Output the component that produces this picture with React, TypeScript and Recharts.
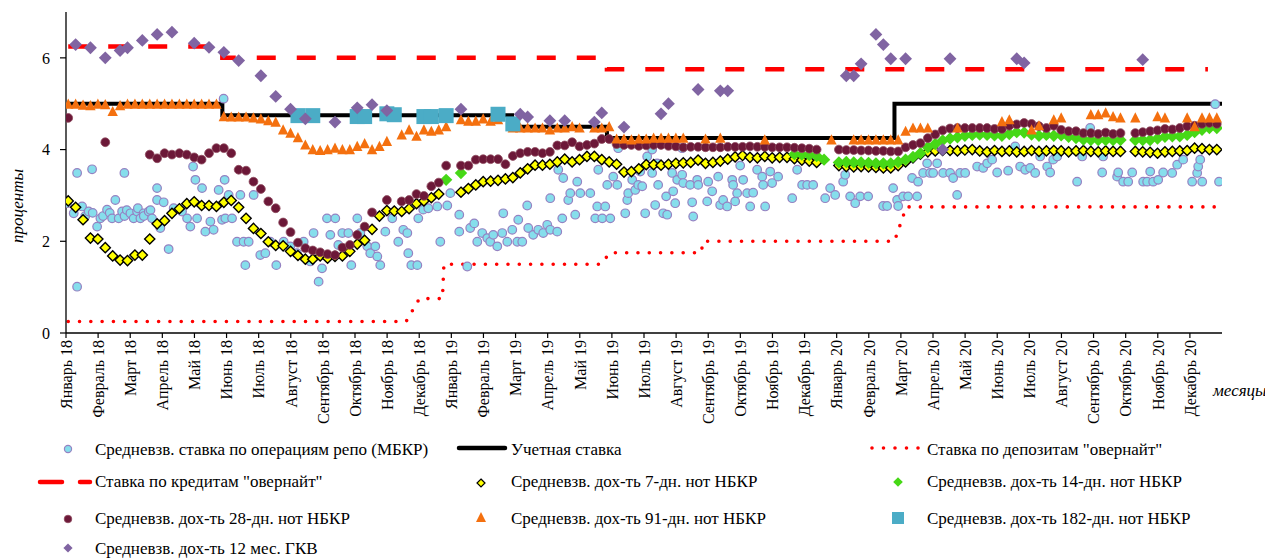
import React from "react";
import { ComposedChart, Line, Scatter, XAxis, YAxis } from "recharts";

const FONT = "'Liberation Serif', 'Times New Roman', serif";
const _ = null;

// month labels, one tick per month (x axis runs in weeks)
const monthLabels = [
  "Январь 18", "Февраль 18", "Март 18", "Апрель 18", "Май 18", "Июнь 18",
  "Июль 18", "Август 18", "Сентябрь 18", "Октябрь 18", "Ноябрь 18", "Декабрь 18",
  "Январь 19", "Февраль 19", "Март 19", "Апрель 19", "Май 19", "Июнь 19",
  "Июль 19", "Август 19", "Сентябрь 19", "Октябрь 19", "Ноябрь 19", "Декабрь 19",
  "Январь 20", "Февраль 20", "Март 20", "Апрель 20", "Май 20", "Июнь 20",
  "Июль 20", "Август 20", "Сентябрь 20", "Октябрь 20", "Ноябрь 20", "Декабрь 20",
];
const monthTicks = monthLabels.map((_m, i) => (i * 52) / 12);

// policy lines: [week position, rate]
const discountRate = [[0.3, 5.0], [21.1, 4.75], [60.2, 4.5], [73.0, 4.25], [111.8, 5.0], [156, 5.0]];
const overnightCredit = [[0.3, 6.25], [21.1, 6.0], [73.0, 5.75], [154.1, 5.75]];
const overnightDeposit = [
  [0.3, 0.25], [45.9, 0.25], [47.7, 0.75], [50.8, 0.75], [51.0, 1.5], [72.2, 1.5],
  [73.4, 1.75], [85.7, 1.75], [86.0, 2.0], [111.8, 2.0], [113.4, 2.75], [156, 2.75],
];

// weekly yields, weeks 0..155
const notes7 = [
  2.88, 2.74, 2.47, 2.07, 2.05, 1.86, 1.68, 1.59, 1.58, 1.70, 1.70, 2.05,
  2.38, 2.45, 2.61, 2.71, 2.82, 2.86, 2.78, 2.78, 2.76, 2.85, 2.89, 2.74,
  2.50, 2.28, 2.17, 1.99, 1.91, 1.90, 1.78, 1.69, 1.61, 1.61, 1.68, 1.63,
  1.67, 1.68, 1.78, 1.94, 2.02, 2.26, 2.55, 2.67, 2.66, 2.65, 2.71, 2.82,
  2.88, 2.95, 3.03, _, _, 3.07, 3.15, 3.23, 3.30, 3.31, 3.33, 3.36,
  3.39, 3.49, 3.58, 3.66, 3.66, 3.68, 3.73, 3.79, 3.73, 3.78, 3.85, 3.85,
  3.78, 3.73, 3.68, 3.51, 3.52, 3.58, 3.67, 3.67, 3.66, 3.68, 3.70, 3.71,
  3.72, 3.77, 3.70, 3.72, 3.75, 3.79, 3.84, 3.87, 3.83, 3.82, 3.85, 3.82,
  3.83, 3.83, 3.80, 3.77, 3.75, 3.72, _, _, 3.65, 3.63, 3.62, 3.63,
  3.62, 3.61, 3.60, 3.60, 3.65, 3.73, 3.82, 3.90, 3.95, 3.97, 3.98, 3.98,
  3.97, 3.99, 4.00, 3.97, 3.95, 3.98, 3.96, 3.97, 3.95, 3.96, 3.98, 3.96,
  3.97, 3.98, 3.97, 3.95, 3.97, 3.98, 3.96, 3.95, 3.97, 3.96, 3.96, _,
  3.96, 3.95, 3.94, 3.92, 3.95, 3.96, 3.97, 3.98, 4.03, 4.02, 4.00, 4.00,
];

const notes14 = [
  _, _, _, _, _, _, _, _, _, _, _, _,
  _, _, _, _, _, _, _, _, _, _, _, _,
  _, _, _, _, _, _, _, _, _, _, _, _,
  _, _, _, _, _, _, _, _, _, _, _, _,
  _, _, _, 3.34, _, 3.49, _, _, _, _, _, _,
  _, _, _, _, _, _, _, _, _, _, _, _,
  _, _, _, _, _, _, _, _, _, _, _, _,
  _, _, _, _, _, _, _, _, _, _, _, _,
  _, _, 3.90, 3.89, 3.88, 3.86, 3.78, _, 3.72, 3.73, 3.72, 3.72,
  3.71, 3.70, 3.70, 3.70, 3.73, 3.78, 3.84, 3.92, 4.05, 4.12, 4.20, 4.24,
  4.27, 4.30, 4.32, 4.33, 4.32, 4.31, 4.30, 4.34, 4.38, 4.37, 4.33, 4.30,
  4.32, 4.30, 4.31, 4.28, 4.25, 4.22, 4.21, 4.21, 4.21, 4.21, 4.21, _,
  4.21, 4.21, 4.21, 4.24, 4.28, 4.29, 4.29, 4.32, 4.38, 4.43, 4.47, 4.47,
];

const notes28 = [
  4.69, _, _, _, _, 4.16, _, _, _, _, _, 3.89,
  3.81, 3.92, 3.89, 3.92, 3.89, 3.83, 3.78, 3.92, 4.03, 4.03, 3.92, 3.56,
  3.54, 3.30, 3.14, 2.87, 2.72, 2.41, 2.20, 1.97, 1.85, 1.80, 1.76, 1.72,
  1.70, 1.86, 1.92, 2.14, 2.32, 2.63, _, 2.90, _, 2.87, 2.90, 3.03,
  2.99, 3.20, 3.28, 3.65, _, 3.65, 3.65, 3.78, 3.79, 3.79, 3.79, 3.68,
  3.86, 3.92, 3.95, 3.95, 3.92, 3.95, 4.09, 4.09, 4.16, 4.07, 4.10, 4.13,
  4.23, 4.23, 4.12, 4.10, 4.10, 4.08, 4.09, 4.10, 4.10, 4.08, 4.07, 4.05,
  4.06, 4.06, 4.05, 4.05, 4.05, 4.06, 4.06, 4.06, 4.07, 4.06, 4.06, 4.05,
  4.05, 4.05, 4.04, 4.03, 4.02, 4.00, _, _, 4.00, 3.99, 3.99, 3.98,
  3.98, 3.97, 3.97, 3.96, 3.96, 4.05, 4.10, 4.14, 4.25, 4.33, 4.42, 4.46,
  4.47, 4.47, 4.47, 4.47, 4.47, 4.45, 4.45, 4.52, 4.55, 4.58, 4.56, 4.51,
  4.47, 4.52, 4.43, 4.40, 4.40, 4.36, 4.36, 4.34, 4.37, 4.34, 4.36, _,
  4.36, 4.38, 4.40, 4.42, 4.45, 4.44, 4.47, 4.51, 4.52, 4.56, 4.58, 4.56,
];

const notes91 = [
  4.99, 4.99, 4.97, 4.96, 4.99, 4.98, 4.83, 4.96, 4.99, 4.99, 4.99, 4.99,
  4.99, 4.99, 4.99, 4.99, 4.99, 4.99, 4.99, 4.99, 4.99, 4.72, 4.71, 4.71,
  4.71, 4.69, 4.67, 4.63, 4.60, 4.43, 4.36, 4.26, 4.10, 4.00, 3.98, 4.00,
  4.03, 4.00, 4.00, 4.07, 4.13, 4.00, 4.07, 4.18, _, 4.32, 4.43, 4.29,
  4.43, 4.40, 4.43, 4.50, _, 4.65, 4.62, 4.62, 4.67, 4.62, 4.65, _,
  4.47, 4.47, 4.47, 4.47, 4.47, 4.43, 4.47, 4.47, 4.50, 4.47, _, 4.47,
  4.47, 4.50, 4.23, 4.23, 4.21, 4.23, 4.23, 4.25, 4.25, 4.25, 4.25, 4.25,
  _, _, 4.23, _, 4.25, _, _, _, _, _, 4.21, _,
  _, _, _, _, _, _, _, 4.21, _, _, 4.21, 4.21,
  4.21, 4.21, 4.21, 4.21, 4.21, 4.40, 4.47, 4.47, 4.47, _, _, _,
  4.47, _, _, _, _, _, 4.61, 4.65, _, _, 4.43, 4.52,
  _, 4.65, 4.69, _, _, _, 4.76, 4.76, 4.80, 4.72, 4.69, _,
  4.69, _, _, 4.72, 4.69, _, _, 4.69, 4.50, 4.69, 4.69, 4.69,
];

const notes182Weeks = [31, 33, 39, 40, 43, 44, 48, 49, 51, 58, 60];
const notes182 = [4.74, 4.74, 4.72, 4.72, 4.78, 4.76, 4.72, 4.72, 4.74, 4.77, 4.56];

const gkvWeeks = [
  1, 3, 5, 7, 8, 10, 12, 14, 17, 19, 21, 23, 26, 28, 30, 32, 36, 39, 41, 43, 53, 61,
  62, 65, 67, 71, 72, 75, 80, 81, 85, 88, 89, 105, 106, 107, 109, 110, 111, 113, 118, 119,
  128, 129, 145,
];
const gkv12 = [
  6.29, 6.22, 6.0, 6.16, 6.22, 6.38, 6.51, 6.56, 6.32, 6.23, 6.12, 5.94, 5.61, 5.16, 4.88, 4.67,
  4.60, 4.91, 4.98, 4.85, 4.88, 4.77, 4.71, 4.63, 4.63, 4.60, 4.80, 4.49, 4.78, 5.0, 5.31, 5.28,
  5.28, 5.61, 5.61, 5.87, 6.51, 6.29, 5.98, 5.98, 4.0, 5.98, 5.98, 5.89, 5.96,
];

// interbank repo deals (position in weeks, rate)
const repoPos = [
  0.15, 1.04, 1.5, 1.5, 2.17, 2.6, 3.06, 3.52, 3.6, 4.2, 4.64, 5.0, 5.54, 5.9, 6.22, 6.66,
  7.11, 7.57, 7.88, 7.9, 8.2, 8.69, 9.13, 9.59, 9.7, 10.04, 10.48, 10.5, 11.16, 11.4, 11.61, 12.29,
  12.29, 12.73, 13.18, 13.85, 14.53, 15.66, 16.34, 16.78, 17.15, 17.46, 17.69, 18.36, 18.8, 19.48,
  19.92, 20.6, 21.06, 21.27, 21.41, 21.5, 21.95, 22.41, 23.08, 23.53, 23.97, 24.2, 24.65, 25.32,
  26.22, 26.9, 27.57, 28.38, 29.37, 30.27, 31.17, 32.07, 32.97, 33.41, 34.09, 34.55, 35.22, 35.67,
  36.34, 36.75, 37.29, 38.1, 38.5, 39.31, 39.72, 40.66, 41.06, 41.74, 42.01, 42.41, 43.09, 44.03,
  44.84, 45.52, 46.06, 46.19, 46.6, 47.41, 47.54, 48.21, 48.89, 50.1, 50.51, 51.45, 51.86, 53.07,
  53.07, 54.15, 54.55, 55.09, 55.5, 56.17, 56.85, 57.25, 57.66, 58.2, 58.87, 59.01, 59.55, 60.22,
  60.9, 61.03, 61.57, 62.24, 62.38, 63.05, 63.73, 64.4, 64.94, 65.35, 65.35, 66.29, 66.43, 66.97,
  67.1, 67.78, 68.05, 68.72, 68.99, 69.4, 70.75, 71.42, 71.69, 71.83, 72.37, 72.77, 73.04, 73.45,
  73.85, 74.39, 74.52, 75.47, 75.74, 75.87, 76.41, 76.82, 77.22, 77.49, 77.76, 78.16, 78.43, 79.1,
  79.1, 79.51, 79.78, 79.91, 80.59, 80.99, 81.13, 81.8, 81.94, 82.21, 82.48, 83.15, 83.15, 83.29,
  84.23, 84.5, 84.64, 85.18, 85.31, 86.53, 86.66, 87.2, 88.01, 88.28, 88.68, 89.22, 89.9, 90.03,
  90.3, 90.57, 90.98, 91.38, 91.92, 92.33, 92.73, 93.27, 93.95, 94.08, 94.35, 95.03, 95.29, 96.1,
  98.0, 98.67, 99.34, 100.02, 100.83, 102.45, 103.12, 103.8, 104.88, 105.15, 105.82, 106.5, 107.17,
  108.25, 110.27, 110.81, 111.62, 112.16, 112.3, 112.97, 113.64, 114.18, 114.86, 114.99, 115.67,
  116.21, 116.61, 117.02, 117.56, 118.37, 119.31, 119.72, 120.26, 120.66, 121.34, 122.96, 123.77,
  124.31, 124.98, 125.66, 127.14, 128.09, 128.76, 129.44, 130.11, 130.79, 131.46, 132.41, 132.81,
  133.22, 133.76, 136.45, 137.13, 138.21, 139.83, 139.96, 141.85, 141.99, 142.66, 143.34, 143.88,
  145.36, 145.9, 146.31, 146.71, 147.39, 148.06, 149.28, 149.95, 150.76, 151.97, 152.65, 152.79,
  153.06, 153.33, 155.08, 155.6,
];
const repoRate = [
  2.83, 2.61, 3.49, 1.01, 2.76, 2.55, 2.65, 3.57, 2.62, 2.32, 2.5, 2.55, 2.69, 2.62, 2.5, 2.9,
  2.5, 2.65, 3.49, 2.55, 2.68, 2.61, 2.5, 2.65, 2.72, 2.5, 2.61, 2.55, 2.65, 2.68, 2.5, 3.16,
  2.9, 2.29, 2.85, 1.83, 2.72, 2.65, 2.5, 2.32, 3.63, 3.34, 2.5, 3.16, 2.21, 2.43,
  2.25, 3.12, 2.47, 5.11, 3.34, 2.5, 3.01, 2.5, 1.99, 3.01, 1.99, 1.48, 1.99, 3.01,
  1.7, 1.74, 1.99, 1.48, 1.99, 1.89, 1.74, 1.99, 1.56, 2.18, 1.12, 1.41, 2.5, 2.14,
  2.5, 1.92, 2.18, 2.18, 1.48, 2.5, 2.18, 1.89, 1.74, 1.89, 1.67, 1.48, 2.21, 2.5,
  1.99, 2.25, 2.18, 1.74, 1.48, 1.48, 2.5, 2.69, 2.72, 2.76, 1.99, 2.78, 3.05, 2.58,
  2.21, 1.45, 2.29, 2.39, 1.99, 2.18, 2.07, 1.99, 2.14, 1.89, 2.18, 2.61, 1.99, 2.25,
  1.99, 2.47, 1.99, 2.78, 2.29, 2.14, 2.25, 2.18, 2.36, 2.25, 2.94, 2.21, 3.56, 2.5,
  3.38, 2.9, 3.05, 2.58, 3.3, 3.05, 3.05, 2.5, 2.76, 3.56, 2.5, 2.76, 3.23, 2.5,
  3.41, 3.23, 4.03, 2.61, 2.9, 3.05, 3.34, 3.12, 3.23, 3.52, 3.2, 2.61, 3.85, 4.0,
  3.49, 2.79, 3.7, 3.23, 2.61, 2.98, 2.58, 3.49, 3.09, 2.83, 3.34, 4.03, 3.45, 3.27,
  3.23, 2.85, 2.54, 3.34, 3.23, 2.87, 3.3, 3.09, 3.41, 2.79, 2.9, 2.76, 3.34, 3.23,
  2.87, 3.05, 3.65, 3.34, 3.05, 2.76, 3.06, 3.56, 3.41, 3.23, 2.76, 3.52, 3.27, 3.41,
  2.94, 3.56, 3.23, 3.23, 3.23, 2.94, 3.16, 3.01, 3.3, 3.45, 2.98, 2.83, 2.98,
  2.98, 2.77, 2.77, 3.16, 2.9, 2.77, 2.98, 2.98, 3.38, 2.98, 3.3, 3.49,
  3.7, 3.49, 3.49, 3.7, 3.49, 3.49, 3.38, 3.01, 3.49, 3.49, 3.63, 3.6,
  3.7, 3.78, 3.5, 3.54, 4.07, 3.63, 3.56, 3.6, 3.49, 3.85, 3.63, 3.5,
  3.78, 3.85, 3.3, 3.85, 4.47, 3.5, 3.85, 3.41, 3.5, 3.3, 3.3, 3.5,
  3.3, 3.3, 3.52, 3.3, 3.34, 3.5, 3.49, 3.67, 3.78, 3.3, 3.49, 3.63,
  3.78, 3.3, 4.99, 3.3,
];

type Row = { x: number; y: number };
const weekly = (vals: (number | null)[]): Row[] =>
  vals.flatMap((v, w) => (v === null ? [] : [{ x: w + 0.3, y: v }]));
const byWeek = (weeks: number[], vals: number[]): Row[] => weeks.map((w, i) => ({ x: w + 0.3, y: vals[i] }));
const pairs = (p: number[][]): Row[] => p.map(([x, y]) => ({ x, y }));

const repoRows = repoPos.map((x, i) => ({ x, y: repoRate[i] }));

const C = {
  repoFill: "#86DEEC",
  repoStroke: "#9582C2",
  yellow: "#FFFF00",
  green: "#46D816",
  maroon: "#6C1838",
  orange: "#F4700F",
  teal: "#4BACC6",
  purple: "#8064A2",
  red: "#FF0000",
};

const diamond = (cx: number, cy: number, h: number) =>
  `M${cx},${cy - h}L${cx + h},${cy}L${cx},${cy + h}L${cx - h},${cy}Z`;

const RepoShape = (p: any) => (
  <circle cx={p.cx} cy={p.cy} r={4.3} fill={C.repoFill} stroke={C.repoStroke} strokeWidth={1.2} />
);
const Note7Shape = (p: any) => <path d={diamond(p.cx, p.cy, 5.1)} fill={C.yellow} stroke="#000" strokeWidth={1.4} />;
const Note14Shape = (p: any) => <path d={diamond(p.cx, p.cy, 6.2)} fill={C.green} />;
const Note28Shape = (p: any) => (
  <circle cx={p.cx} cy={p.cy} r={4.4} fill={C.maroon} stroke="#8E4A5E" strokeWidth={0.8} />
);
const Note91Shape = (p: any) => (
  <path d={`M${p.cx},${p.cy - 5.6}L${p.cx + 5.2},${p.cy + 4.6}L${p.cx - 5.2},${p.cy + 4.6}Z`} fill={C.orange} />
);
const Note182Shape = (p: any) => <rect x={p.cx - 7.5} y={p.cy - 7.5} width={15} height={15} fill={C.teal} />;
const GkvShape = (p: any) => <path d={diamond(p.cx, p.cy, 6.4)} fill={C.purple} />;

function MonthTick(props: any) {
  const { x, y, payload } = props;
  const idx = Math.round((payload.value * 12) / 52);
  return (
    <text
      x={x}
      y={y}
      transform={`rotate(-90 ${x} ${y})`}
      textAnchor="end"
      dy="0.36em"
      fontSize={16}
      fontFamily={FONT}
      fill="#000"
    >
      {monthLabels[idx]}
    </text>
  );
}

const legendText = { fontSize: 17, fontFamily: FONT, fill: "#000" };

function LegendOverlay() {
  return (
    <svg width={1265} height={552} style={{ position: "absolute", left: 0, top: 0, pointerEvents: "none" }}>
      <text
        x={9}
        y={198}
        transform="rotate(-90 9 198)"
        textAnchor="middle"
        dy="0.35em"
        fontSize={17}
        fontStyle="italic"
        fontFamily={FONT}
      >
        проценты
      </text>
      <text x={1205} y={388} fontSize={17} fontStyle="italic" fontFamily={FONT}>
        месяцы
      </text>

      {/* row 1 */}
      <circle cx={60} cy={441} r={3.6} fill={C.repoFill} stroke={C.repoStroke} strokeWidth={1.2} />
      <text x={87} y={447} {...legendText}>Средневзв. ставка по операциям репо (МБКР)</text>
      <line x1={451} y1={440} x2={497} y2={440} stroke="#000" strokeWidth={4.5} strokeLinecap="round" />
      <text x={503} y={447} {...legendText}>Учетная ставка</text>
      <line x1={864} y1={440} x2={912} y2={440} stroke={C.red} strokeWidth={3.6} strokeLinecap="round" strokeDasharray="0 11.5" />
      <text x={919} y={447} {...legendText}>Ставка по депозитам "овернайт"</text>

      {/* row 2 */}
      <line x1={32} y1={474} x2={54} y2={474} stroke={C.red} strokeWidth={4.5} strokeLinecap="round" />
      <line x1={72} y1={474} x2={82} y2={474} stroke={C.red} strokeWidth={4.5} strokeLinecap="round" />
      <text x={87} y={479} {...legendText}>Ставка по кредитам "овернайт"</text>
      <path d={diamond(473, 475, 4)} fill={C.yellow} stroke="#000" strokeWidth={1.2} />
      <text x={503} y={479} {...legendText}>Средневзв. дох-ть 7-дн. нот НБКР</text>
      <path d={diamond(890, 474, 4.8)} fill={C.green} />
      <text x={919} y={479} {...legendText}>Средневзв. дох-ть 14-дн. нот НБКР</text>

      {/* row 3 */}
      <circle cx={60} cy={511} r={3.8} fill={C.maroon} stroke="#8E4A5E" strokeWidth={0.8} />
      <text x={87} y={516} {...legendText}>Средневзв. дох-ть 28-дн. нот НБКР</text>
      <path d="M473,504L478,514L468,514Z" fill={C.orange} />
      <text x={503} y={516} {...legendText}>Средневзв. дох-ть 91-дн. нот НБКР</text>
      <rect x={884} y={504} width={12} height={12} fill={C.teal} />
      <text x={919} y={516} {...legendText}>Средневзв. дох-ть 182-дн. нот НБКР</text>

      {/* row 4 */}
      <path d={diamond(60, 540, 4.6)} fill={C.purple} />
      <text x={87} y={546} {...legendText}>Средневзв. дох-ть 12 мес. ГКВ</text>
    </svg>
  );
}

export default function App() {
  return (
    <div style={{ position: "relative", width: 1265, height: 552, fontFamily: FONT }}>
      <style>{"body { margin: 8px 8px 0 8px; }"}</style>
      <ComposedChart width={1265} height={440} margin={{ top: 4, right: 51, bottom: 0, left: 0 }}>
        <XAxis
          dataKey="x"
          type="number"
          domain={[0, 156]}
          allowDataOverflow
          ticks={monthTicks}
          interval={0}
          height={115}
          tickSize={5}
          tickMargin={2}
          tick={(p: any) => <MonthTick {...p} />}
          axisLine={{ stroke: "#000", strokeWidth: 1.3 }}
          tickLine={{ stroke: "#000", strokeWidth: 1.2 }}
        />
        <YAxis
          dataKey="y"
          type="number"
          domain={[0, 7]}
          allowDataOverflow
          ticks={[0, 2, 4, 6]}
          width={58}
          tickSize={6}
          tickMargin={10}
          tick={{ fontSize: 16, fill: "#000", fontFamily: FONT }}
          axisLine={{ stroke: "#000", strokeWidth: 1.3 }}
          tickLine={{ stroke: "#000", strokeWidth: 1.2 }}
        />
        <Line
          data={pairs(overnightDeposit)}
          dataKey="y"
          type="linear"
          stroke={C.red}
          strokeWidth={3.6}
          strokeLinecap="round"
          strokeDasharray="0 11.3"
          dot={false}
          activeDot={false}
          isAnimationActive={false}
        />
        <Line
          data={pairs(overnightCredit)}
          dataKey="y"
          type="stepAfter"
          stroke={C.red}
          strokeWidth={4.5}
          strokeDasharray="19 21"
          dot={false}
          activeDot={false}
          isAnimationActive={false}
        />
        <Line
          data={pairs(discountRate)}
          dataKey="y"
          type="stepAfter"
          stroke="#000"
          strokeWidth={4}
          dot={false}
          activeDot={false}
          isAnimationActive={false}
        />
        <Scatter data={repoRows} dataKey="y" shape={RepoShape} isAnimationActive={false} />
        <Scatter data={weekly(notes7)} dataKey="y" shape={Note7Shape} isAnimationActive={false} />
        <Scatter data={weekly(notes14)} dataKey="y" shape={Note14Shape} isAnimationActive={false} />
        <Scatter data={weekly(notes28)} dataKey="y" shape={Note28Shape} isAnimationActive={false} />
        <Scatter data={weekly(notes91)} dataKey="y" shape={Note91Shape} isAnimationActive={false} />
        <Scatter data={byWeek(notes182Weeks, notes182)} dataKey="y" shape={Note182Shape} isAnimationActive={false} />
        <Scatter data={byWeek(gkvWeeks, gkv12)} dataKey="y" shape={GkvShape} isAnimationActive={false} />
      </ComposedChart>
      <LegendOverlay />
    </div>
  );
}
